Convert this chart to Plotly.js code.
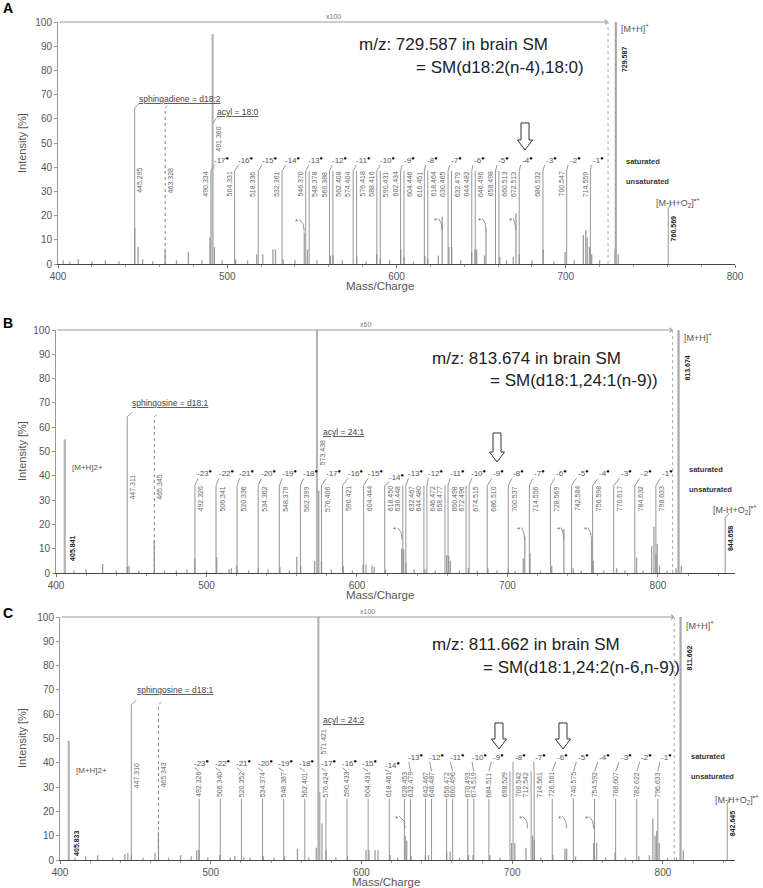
<!DOCTYPE html>
<html><head><meta charset="utf-8">
<script src="https://cdn.plot.ly/plotly-3.0.1.min.js"></script>
<style>body{margin:0;background:#fff}#chart{width:763px;height:888px}</style>
</head><body><div id="chart"></div>
<script>
// ---------- panel A: m/z 729.587 ----------
const peakMzA = [403, 407, 412, 420, 428, 436, 445.3, 447.3, 450, 456, 463.3, 470, 477, 485, 489.8, 491.36, 492.4, 497, 505, 512, 517.4, 521, 527, 528.5, 533, 540, 545.5, 547.4, 553, 561, 562.5, 568, 576.5, 582, 588.3, 590.4, 596, 602.5, 604.4, 610, 616.8, 618.5, 624.7, 627, 631, 632.6, 638, 644.4, 646.4, 647.4, 652, 652.9, 661, 665, 669, 670.6, 672.5, 680, 686.7, 693, 699.6, 705, 710.4, 711.8, 712.7, 714, 715.3, 720, 729.1, 731];
const peakIntA = [1.5, 1, 2, 1, 1.5, 1, 15, 7, 2, 1, 6, 1.5, 5, 1.5, 11, 95, 7, 1.5, 2, 1.5, 4, 4, 6, 6, 2, 1.5, 13, 6, 1.5, 3.5, 3.5, 1.5, 3, 1, 4, 2, 1.5, 6, 3, 1, 3.3, 2, 3.5, 19.5, 7, 7, 1.5, 5, 6, 6, 3.5, 14.7, 3, 1.5, 3, 21, 4, 1.5, 6, 1, 5, 1.5, 12, 14, 11, 7, 4, 1.5, 6, 4];
const fragMzA = [490.334, 504.331, 518.336, 532.361, 546.370, 548.378, 560.388, 562.408, 574.404, 576.418, 588.416, 590.431, 602.434, 604.446, 616.451, 618.464, 630.465, 632.479, 644.482, 646.496, 658.498, 660.513, 672.513, 686.532, 700.547, 714.559];
const lossNA = [-17, -16, -15, -14, -13, -12, -11, -10, -9, -8, -7, -6, -5, -4, -3, -2, -1];
const lossMzA = [496.7, 510.9, 524.7, 538.7, 552.4, 566.2, 580.4, 594.6, 607.6, 621.4, 635.6, 649.3, 663.5, 677.5, 691.7, 705.5, 719.2];
const lossIntA = [43, 43, 43, 43, 43, 43, 43, 43, 43, 43, 43, 43, 43, 43, 43, 43, 43];
const lossLineA = [490.334, 504.331, 518.336, 532.361, 546.370, 560.388, 574.404, 588.416, 602.434, 616.451, 630.465, 644.482, 658.498, 672.513, 686.532, 700.547, 714.559];
const starMzA = [541, 623.3, 649.3, 667.5];
const starIntA = [17.5, 17.8, 17.8, 17.8];
const starPeakA = [545.5, 627, 652.9, 670.6];
const sphMzA = [445.295, 463.328];
const acylMzA = 491.360;
const precA = 729.587;
const oxA = 760.569;

// ---------- panel B: m/z 813.674 ----------
const peakMzB = [405.841, 412, 420, 431, 440, 447.3, 448.5, 455, 465.3, 472, 480, 487, 492.3, 500, 506.8, 515, 516.5, 520, 528, 534.4, 541, 548.8, 555, 560, 562.6, 571.8, 573.438, 574.6, 576.4, 583, 590.9, 597, 604, 606, 610, 611.5, 619, 629.7, 631, 632.5, 638, 645.2, 652, 659.6, 661, 662, 668, 674, 680, 687, 693, 700.5, 705, 710.5, 711.5, 715, 722, 729.4, 737.5, 743.7, 749, 755.9, 757, 764, 772.5, 778, 785.8, 790, 795.8, 797.3, 798.7, 799.5, 801, 806, 812, 815.5];
const peakIntB = [55, 1, 1.5, 3.7, 1, 2.5, 3, 1, 13.6, 1, 1, 1.5, 6, 1, 6.5, 1.5, 2, 3, 1, 2, 1.5, 2.5, 1, 6.7, 3, 5, 100, 34, 5, 1.5, 3, 1, 3.5, 3.5, 3, 2.5, 1.5, 10, 10, 4, 1.5, 1.5, 1, 7.4, 7, 5, 1, 2, 1, 2, 1, 1.5, 1, 6, 15, 8, 1, 3, 18, 2, 1, 13.6, 5, 1, 2, 1, 6.5, 1, 11, 19, 8, 12, 3, 1, 2, 3];
const fragMzB = [492.326, 506.341, 520.336, 534.362, 548.379, 562.399, 576.406, 590.421, 604.444, 618.450, 630.448, 632.467, 644.480, 646.472, 658.477, 660.498, 672.496, 674.515, 686.510, 700.537, 714.556, 728.569, 742.584, 756.598, 770.617, 784.632, 798.633];
const lossNB = [-23, -22, -21, -20, -19, -18, -17, -16, -15, -14, -13, -12, -11, -10, -9, -8, -7, -6, -5, -4, -3, -2, -1];
const lossMzB = [499, 513, 526.7, 541, 555, 569.2, 584.3, 598.7, 612, 626, 638.9, 652.2, 666.6, 681, 694.3, 707.6, 721.6, 736, 750.4, 764.8, 779.2, 792.5, 806.2];
const lossIntB = [41, 41, 41, 41, 41, 41, 41, 41, 41, 39.5, 41, 41, 41, 41, 41, 41, 41, 41, 41, 41, 41, 41, 41];
const lossLineB = [492.326, 506.341, 520.336, 534.362, 548.379, 562.399, 576.406, 590.421, 604.444, 618.450, 632.467, 646.472, 660.498, 674.515, 686.510, 700.537, 714.556, 728.569, 742.584, 756.598, 770.617, 784.632, 798.633];
const starMzB = [625.2, 707.6, 734, 751.8];
const starIntB = [17.7, 17.7, 17.7, 17.7];
const starPeakB = [630, 711.5, 737.5, 755.9];
const sphMzB = [447.311, 465.345];
const acylMzB = 573.438;
const precB = 813.674;
const oxB = 844.658;
const dimerB = 405.841;

// ---------- panel C: m/z 811.662 ----------
const peakMzC = [405.833, 410, 417, 425, 435, 443, 445, 447.3, 455, 463, 465.3, 472, 480, 487, 490.7, 492.2, 498, 506, 513, 516, 522, 526, 535, 542, 549, 557.5, 565, 570, 571.421, 572.3, 573.8, 576.5, 583, 590.8, 603, 605, 609, 611, 619, 624, 629, 630, 633, 642.4, 644.5, 656.5, 658.8, 665, 671, 674, 685.2, 692, 699.6, 701.7, 709.1, 713.5, 714.6, 719, 727, 735, 736.1, 742, 754, 756, 762, 768.2, 775, 784, 791, 793.3, 794.8, 795.8, 797.5, 803, 809, 813.5];
const peakIntC = [49, 1, 1.5, 2, 1, 2.5, 3, 2, 1, 3, 11.7, 1, 2, 1.5, 4, 4, 1, 2, 1, 1.5, 1, 1, 1.5, 1, 1.5, 4.6, 1, 5, 100, 28, 15, 4, 1, 1.5, 4, 4, 4, 4, 2, 1, 10, 8, 1.5, 2, 2, 3.5, 3.5, 1, 2, 2, 2, 1, 7, 7, 5, 10, 8, 1, 2, 4.7, 4.7, 1.5, 7, 7, 1, 3, 1, 1.5, 2, 17, 10, 12, 7, 1, 1, 4];
const fragMzC = [492.326, 506.340, 520.352, 534.374, 548.387, 562.401, 576.424, 590.433, 604.431, 618.461, 628.453, 632.479, 642.467, 646.487, 656.472, 660.496, 670.493, 674.519, 684.511, 698.529, 700.542, 712.542, 714.561, 726.561, 740.575, 754.592, 768.607, 782.622, 796.633];
const lossNC = [-23, -22, -21, -20, -19, -18, -17, -16, -15, -14, -13, -12, -11, -10, -9, -8, -7, -6, -5, -4, -3, -2, -1];
const lossMzC = [494, 507.9, 522, 536, 549.7, 563.6, 578, 591.9, 605.6, 620.3, 636.1, 649.9, 663.6, 678, 690.8, 705.2, 718.9, 733.5, 747.2, 761.5, 775.5, 789.3, 802.6];
const lossIntC = [40, 40, 40, 40, 40, 40, 40, 40, 40, 39, 42.4, 42.4, 42.4, 42.4, 42.4, 42.4, 42.4, 42.4, 42.4, 42.4, 42.4, 42.4, 42.4];
const lossLineC = [492.326, 506.340, 520.352, 534.374, 548.387, 562.401, 576.424, 590.433, 604.431, 618.461, 632.479, 646.487, 660.496, 674.519, 684.511, 700.542, 714.561, 726.561, 740.575, 754.592, 768.607, 782.622, 796.633];
const starMzC = [623.3, 705.2, 731.7, 749.4];
const starIntC = [17, 17, 17, 17];
const starPeakC = [629, 710.3, 736.1, 754];
const sphMzC = [447.310, 465.343];
const acylMzC = 571.421;
const precC = 811.662;
const oxC = 842.645;
const dimerC = 405.833;

// ---------- layout helpers ----------
const W = 763, H = 888;
const FONT = 'Liberation Sans, Arial, sans-serif';
const px = v => v / W;
const py = v => 1 - v / H;

const panels = [
  {ax: 'x', ay: 'y', k: 1.6925, yk: 2.42, range: [400, 800], dom: [58, 735, 22, 264],
   peakMz: peakMzA, peakInt: peakIntA, frags: fragMzA, fragTop: 38.5, side: 'left',
   lossN: lossNA, lossMz: lossMzA, lossInt: lossIntA, lossLine: lossLineA,
   starMz: starMzA, starInt: starIntA, starPeak: starPeakA,
   sph: sphMzA, sphTop: 64.5, sphValTop: 40, sphName: 'sphingadiene = d18:2', sphPos: [180, 99],
   acyl: acylMzA, acylValTop: 57, acylName: 'acyl = 18:0', acylPos: [238, 112], acylConn: true,
   prec: precA, precLabelY: 97.5, precValTop: 90,
   ox: oxA, oxTop: 23, oxLabelY: 25.6, oxValTop: 20.2,
   dimer: null,
   magEnd: 725, magText: 'x100', magPos: [333, 16],
   t1: 'm/z: 729.587 in brain SM', t1Pos: [454, 45], t2: '= SM(d18:2(n-4),18:0)', t2Pos: [586, 67],
   xtitle: [380, 285.5], ytitle: [22, 143], letter: 'A', letterPos: [1, 8],
   arrows: [[525, 123, 150]]},
  {ax: 'x2', ay: 'y2', k: 1.505, yk: 2.43, range: [400, 851.2], dom: [56, 735, 330, 573],
   peakMz: peakMzB, peakInt: peakIntB, frags: fragMzB, fragTop: 36, side: 'right',
   lossN: lossNB, lossMz: lossMzB, lossInt: lossIntB, lossLine: lossLineB,
   starMz: starMzB, starInt: starIntB, starPeak: starPeakB,
   sph: sphMzB, sphTop: 64.2, sphValTop: 41, sphName: 'sphingosine = d18:1', sphPos: [170, 403],
   acyl: acylMzB, acylValTop: 55, acylName: 'acyl = 24:1', acylPos: [344, 432], acylConn: false,
   prec: precB, precLabelY: 97, precValTop: 89.7,
   ox: oxB, oxTop: 22.6, oxLabelY: 26, oxValTop: 19.8,
   dimer: dimerB, dimerLabelY: 43.6, dimerValTop: 15.6,
   magEnd: 809.8, magText: 'x60', magPos: [365, 324],
   t1: 'm/z: 813.674 in brain SM', t1Pos: [526, 358], t2: '= SM(d18:1,24:1(n-9))', t2Pos: [660, 380],
   xtitle: [380, 595], ytitle: [22, 451], letter: 'B', letterPos: [1, 323],
   arrows: [[497, 433, 462]]},
  {ax: 'x3', ay: 'y3', k: 1.5075, yk: 2.43, range: [400, 847.8], dom: [60, 735, 617, 860],
   peakMz: peakMzC, peakInt: peakIntC, frags: fragMzC, fragTop: 36.5, side: 'center',
   lossN: lossNC, lossMz: lossMzC, lossInt: lossIntC, lossLine: lossLineC,
   starMz: starMzC, starInt: starIntC, starPeak: starPeakC,
   sph: sphMzC, sphTop: 63.8, sphValTop: 40.3, sphName: 'sphingosine = d18:1', sphPos: [175, 690],
   acyl: acylMzC, acylValTop: 54.3, acylName: 'acyl = 24:2', acylPos: [344, 720], acylConn: false,
   prec: precC, precLabelY: 96.7, precValTop: 88.5,
   ox: oxC, oxTop: 23.5, oxLabelY: 24.7, oxValTop: 20.6,
   dimer: dimerC, dimerLabelY: 37, dimerValTop: 12.3,
   magEnd: 807.5, magText: 'x100', magPos: [367, 611],
   t1: 'm/z: 811.662 in brain SM', t1Pos: [526, 644], t2: '= SM(d18:1,24:2(n-6,n-9))', t2Pos: [682, 667],
   xtitle: [386, 881.5], ytitle: [22, 738], letter: 'C', letterPos: [1, 613],
   arrows: [[499, 723, 749], [563, 723, 749]]}
];

const traces = [], annotations = [], shapes = [];
const layout = {width: W, height: H, margin: {l: 0, r: 0, t: 0, b: 0},
  paper_bgcolor: '#fff', plot_bgcolor: '#fff', showlegend: false,
  font: {family: FONT, color: '#555'}, annotations, shapes};

function lines(p, segs, color, width, dash) {
  const x = [], y = [];
  segs.forEach(s => { for (let i = 0; i < s.length; i += 2) { x.push(s[i]); y.push(s[i + 1]); } x.push(null); y.push(null); });
  traces.push({type: 'scatter', mode: 'lines', x, y, xaxis: p.ax, yaxis: p.ay,
    line: {color, width, dash: dash || 'solid'}, hoverinfo: 'skip'});
}
function note(p, o) {
  annotations.push(Object.assign({xref: p.ax, yref: p.ay, showarrow: false, xanchor: 'center',
    font: {family: FONT, size: 7, color: '#666'}}, o));
}
function pnote(o) {
  annotations.push(Object.assign({xref: 'paper', yref: 'paper', showarrow: false, xanchor: 'center', yanchor: 'middle',
    font: {family: FONT, size: 9, color: '#555'}}, o));
}
function hollowArrow(cx, top, bottom) {
  const sw = 4, hw = 7.5, hh = 10;
  const pts = [[cx - sw, top], [cx + sw, top], [cx + sw, bottom - hh], [cx + hw, bottom - hh],
               [cx, bottom], [cx - hw, bottom - hh], [cx - sw, bottom - hh]];
  return {type: 'path', xref: 'paper', yref: 'paper', layer: 'above',
    path: 'M' + pts.map(q => px(q[0]).toFixed(5) + ',' + py(q[1]).toFixed(5)).join('L') + 'Z',
    line: {color: '#333', width: 1}, fillcolor: '#fff'};
}

panels.forEach((p, pi) => {
  const sfx = pi === 0 ? '' : String(pi + 1);
  const d = p.dom;
  layout['xaxis' + sfx] = {domain: [px(d[0]), px(d[1])], range: p.range, anchor: p.ay,
    showline: true, linecolor: '#444', linewidth: 1, ticks: 'outside', ticklen: 3, tickcolor: '#777',
    tickvals: [400, 500, 600, 700, 800], minor: {dtick: 20, tick0: 400, ticks: 'outside', ticklen: 2, tickcolor: '#999'},
    showgrid: false, zeroline: false, tickfont: {size: 10, color: '#555', family: FONT}};
  layout['yaxis' + sfx] = {domain: [py(d[3]), py(d[2])], range: [0, 100], anchor: p.ax,
    showline: true, linecolor: '#999', linewidth: 1, ticks: 'outside', ticklen: 3, tickcolor: '#999',
    tickvals: [0, 10, 20, 30, 40, 50, 60, 70, 80, 90, 100], showgrid: false, zeroline: false,
    tickfont: {size: 10, color: '#555', family: FONT}};

  const mzPx = 1 / p.k, iPx = 1 / p.yk;

  // spectrum sticks
  const small = [], tall = [];
  p.peakMz.forEach((m, i) => (p.peakInt[i] > 40 ? tall : small).push([m, 0, m, p.peakInt[i]]));
  lines(p, small, '#9e9e9e', 1.3);
  lines(p, tall, '#b5b5b5', 2.2);
  lines(p, [[p.prec, 0, p.prec, 100]], '#a8a8a8', 2.2);

  // magnification marker
  shapes.push({type: 'line', xref: p.ax, yref: p.ay, x0: p.magEnd, x1: p.magEnd, y0: 0, y1: 100,
    line: {color: '#aaa', width: 1, dash: 'dot'}});
  annotations.push({xref: p.ax, yref: p.ay, axref: p.ax, ayref: p.ay, x: p.magEnd, y: 100, ax: 400, ay: 100,
    text: '', showarrow: true, arrowhead: 4, arrowsize: 0.9, arrowwidth: 1, arrowcolor: '#999', standoff: 0, startstandoff: 0});
  pnote({x: px(p.magPos[0]), y: py(p.magPos[1]), text: p.magText, font: {family: FONT, size: 7, color: '#777'}});

  // fragment ladder labels
  const fragLen = 25 * iPx;
  const leaders = [];
  p.frags.forEach((m, i) => {
    let side = p.side;
    if (i < p.frags.length - 1 && p.frags[i + 1] - m < 3) side = 'left';
    else if (i > 0 && m - p.frags[i - 1] < 3) side = 'right';
    const anchor = side === 'left' ? 'right' : side === 'right' ? 'left' : 'center';
    const shift = side === 'left' ? -1 : side === 'right' ? 1 : 0;
    leaders.push([m, 0, m, side === 'center' ? p.fragTop - fragLen - 1 : p.fragTop]);
    note(p, {x: m, y: p.fragTop, text: m.toFixed(3), textangle: -90, xanchor: anchor, yanchor: 'top', xshift: shift,
      borderpad: 0});
  });
  // loss labels + connectors
  p.lossN.forEach((n, i) => {
    note(p, {x: p.lossMz[i], y: p.lossInt[i], text: n + '<sup><span style="color:#000;font-weight:bold">&#9679;</span></sup>',
      font: {family: FONT, size: 8, color: '#555'}});
    const lm = p.lossLine[i];
    if (lm != null) leaders.push([lm, p.fragTop, p.lossMz[i] - 7 * mzPx, p.lossInt[i] - 5 * iPx]);
  });
  // marked (*) peaks
  p.starMz.forEach((m, i) => {
    note(p, {x: m, y: p.starInt[i], text: '*', font: {family: FONT, size: 8, color: '#666'}});
    leaders.push([m + 2.5 * mzPx, p.starInt[i] + 1, p.starPeak[i] - 1 * mzPx, p.starInt[i] - 1,
                  p.starPeak[i], p.starInt[i] - 4]);
  });
  // sphingoid base
  leaders.push([p.sph[0], 0, p.sph[0], p.sphTop, p.sph[0] + 5 * mzPx, p.sphTop + 5 * iPx]);
  lines(p, [[p.sph[1], 0, p.sph[1], p.sphTop, p.sph[1] + 4 * mzPx, p.sphTop + 4 * iPx]], '#888', 1, 'dot');
  p.sph.forEach(m => note(p, {x: m, y: p.sphValTop, text: m.toFixed(3), textangle: -90, xanchor: 'left', yanchor: 'top', xshift: 1, borderpad: 0}));
  pnote({x: px(p.sphPos[0]), y: py(p.sphPos[1]), text: '<u>' + p.sphName + '</u>', font: {family: FONT, size: 8.5, color: '#444'}});
  // acyl
  note(p, {x: p.acyl, y: p.acylValTop, text: p.acyl.toFixed(3), textangle: -90, xanchor: 'left', yanchor: 'top', xshift: 1, borderpad: 0});
  pnote({x: px(p.acylPos[0]), y: py(p.acylPos[1]), text: '<u>' + p.acylName + '</u>', font: {family: FONT, size: 8.5, color: '#444'}});
  if (p.acylConn) leaders.push([p.acyl, p.acylValTop + 1, p.acyl + 4 * mzPx, p.acylValTop + 1 + 6 * iPx]);
  // precursor
  note(p, {x: p.prec, y: p.precLabelY, text: '[M+H]<sup>+</sup>', xanchor: 'left', xshift: 3, font: {family: FONT, size: 9, color: '#555'}});
  note(p, {x: p.prec, y: p.precValTop, text: '<b>' + p.prec.toFixed(3) + '</b>', textangle: -90, xanchor: 'left', yanchor: 'top', xshift: 4, borderpad: 0, font: {family: FONT, size: 7, color: '#222'}});
  note(p, {x: p.prec, y: 42.5, text: '<b>saturated</b>', xanchor: 'left', xshift: 8, font: {family: FONT, size: 7.5, color: '#333'}});
  note(p, {x: p.prec, y: 34.2, text: '<b>unsaturated</b>', xanchor: 'left', xshift: 8, font: {family: FONT, size: 7.5, color: '#333'}});
  // oxidised adduct
  leaders.push([p.ox, 0, p.ox, p.oxTop, p.ox + 4 * mzPx, p.oxTop + 5 * iPx]);
  note(p, {x: p.ox, y: p.oxLabelY, text: '[M-H+O<sub>2</sub>]<sup>&#8226;+</sup>', xanchor: 'center', xshift: 10, font: {family: FONT, size: 9, color: '#555'}});
  note(p, {x: p.ox, y: p.oxValTop, text: '<b>' + p.ox.toFixed(3) + '</b>', textangle: -90, xanchor: 'left', yanchor: 'top', xshift: 1, borderpad: 0, font: {family: FONT, size: 7, color: '#222'}});
  // doubly charged
  if (p.dimer != null) {
    note(p, {x: p.dimer, y: p.dimerLabelY, text: '[M+H]2+', xanchor: 'left', xshift: 5, font: {family: FONT, size: 8, color: '#555'}});
    note(p, {x: p.dimer, y: p.dimerValTop, text: '<b>' + p.dimer.toFixed(3) + '</b>', textangle: -90, xanchor: 'left', yanchor: 'top', xshift: 3, borderpad: 0, font: {family: FONT, size: 7, color: '#222'}});
  }
  lines(p, leaders, '#8a8a8a', 0.9);

  // titles
  pnote({x: px(p.t1Pos[0]), y: py(p.t1Pos[1]), text: p.t1, font: {family: FONT, size: 17, color: '#222'}});
  pnote({x: px(p.t2Pos[0]), y: py(p.t2Pos[1]), xanchor: 'right', text: p.t2, font: {family: FONT, size: 17, color: '#222'}});
  pnote({x: px(p.xtitle[0]), y: py(p.xtitle[1]), text: 'Mass/Charge', font: {family: FONT, size: 11.5, color: '#555'}});
  pnote({x: px(p.ytitle[0]), y: py(p.ytitle[1]), text: 'Intensity [%]', textangle: -90, font: {family: FONT, size: 11, color: '#555'}});
  pnote({x: px(p.letterPos[0]), y: py(p.letterPos[1]), xanchor: 'left', text: '<b>' + p.letter + '</b>', font: {family: FONT, size: 14, color: '#000'}});
  p.arrows.forEach(a => shapes.push(hollowArrow(a[0], a[1], a[2])));
});

Plotly.newPlot('chart', traces, layout, {displayModeBar: false, staticPlot: true});
</script>
</body></html>
